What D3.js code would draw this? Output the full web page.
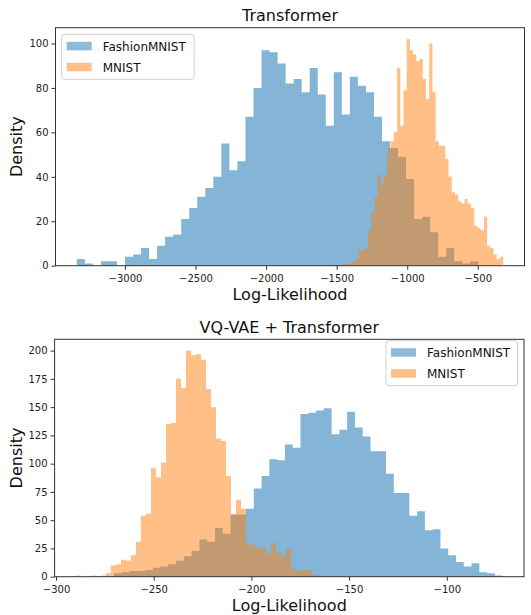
<!DOCTYPE html>
<html>
<head>
<meta charset="utf-8">
<script src="https://cdn.jsdelivr.net/npm/d3@7"></script>
<style>
  body { margin: 0; background: #fff; }
  text { font-family: "DejaVu Sans", sans-serif; }
</style>
</head>
<body>
<svg id="chart" width="531" height="615"></svg>
<script>
//Data: histogram counts, first bin edge and bin width
var seriesNames = ["FashionMNIST", "MNIST"];

var topFashionStart = -3341, topFashionBin = 56.9;
var topFashion = [3, 1, 0, 2, 2, 0, 4, 5, 8, 3, 9, 13, 14, 21, 26, 31, 35, 40, 55, 43,
    47, 67, 80, 97, 96, 91, 82, 84, 78, 89, 77, 63, 87, 68, 85, 81, 78, 67, 56, 53,
    49, 39, 21, 22, 15, 4, 8, 2, 1, 2];
var topMnistStart = -1459, topMnistBin = 22.78;
var topMnist = [1, 1, 1, 2, 3, 7, 7, 8, 16, 24, 31, 41, 37, 41, 53, 56, 60, 89, 63, 79,
    102, 97, 95, 92, 93, 84, 75, 100, 78, 56, 54, 54, 48, 40, 33, 32, 29, 28, 30, 28,
    26, 18, 17, 16, 22, 9, 8, 5, 3, 4];

var botFashionStart = -270.4, botFashionBin = 3.98;
var botFashion = [3, 4, 5, 5, 6, 8, 9, 11, 14, 18, 23, 33, 31, 43, 38, 55, 55, 60, 78, 89,
    104, 103, 117, 114, 144, 145, 147, 149, 126, 130, 146, 132, 124, 111, 111, 91, 74, 74, 54, 58,
    41, 42, 25, 19, 13, 9, 12, 4, 3, 1];
var botMnistStart = -289.8, botMnistBin = 2.56;
var botMnist = [1, 0, 0, 1, 0, 1, 3, 10, 11, 15, 14, 19, 31, 54, 56, 96, 88, 101, 135, 136,
    175, 167, 200, 196, 197, 192, 166, 150, 122, 120, 89, 55, 68, 60, 30, 28, 26, 25, 21, 30,
    21, 18, 25, 7, 5, 6, 6, 2, 1, 1];

var topXTicks = [-3000, -2500, -2000, -1500, -1000, -500];
var topYTicks = [0, 20, 40, 60, 80, 100];
var botXTicks = [-300, -250, -200, -150, -100];
var botYTicks = [0, 25, 50, 75, 100, 125, 150, 175, 200];

var color1 = "#1f77b4";
var color2 = "#ff7f0e";

var svg = d3.select("#chart");

function toBins(start, width, counts) {
    var pts = counts.map(function (n, i) { return { x: start + i * width, n: n }; });
    pts.push({ x: start + counts.length * width, n: counts[counts.length - 1] });
    return pts;
}

function panel(cfg) {
    var s1 = toBins(cfg.fStart, cfg.fBin, cfg.fashion);
    var s2 = toBins(cfg.mStart, cfg.mBin, cfg.mnist);
    var lo = Math.min(s1[0].x, s2[0].x);
    var hi = Math.max(s1[s1.length - 1].x, s2[s2.length - 1].x);
    var pad = (hi - lo) * 0.05;
    var ymax = d3.max(cfg.fashion.concat(cfg.mnist)) * 1.05;

    var x = d3.scaleLinear().domain([lo - pad, hi + pad]).range([cfg.left, cfg.right]);
    var y = d3.scaleLinear().domain([0, ymax]).range([cfg.bottom, cfg.top]);

    var g = svg.append("g");

    var area = d3.area()
        .curve(d3.curveStepAfter)
        .x(function (d) { return x(d.x); })
        .y0(y(0))
        .y1(function (d) { return y(d.n); });

    g.append("path").datum(s1).attr("d", area).attr("fill", color1).attr("fill-opacity", 0.55);
    g.append("path").datum(s2).attr("d", area).attr("fill", color2).attr("fill-opacity", 0.5);

    // Axes
    var xa = g.append("g")
        .attr("transform", "translate(0," + cfg.bottom + ")")
        .call(d3.axisBottom(x).tickValues(cfg.xTicks).tickFormat(d3.format("d"))
            .tickSize(4).tickPadding(5).tickSizeOuter(0));
    var ya = g.append("g")
        .attr("transform", "translate(" + cfg.left + ",0)")
        .call(d3.axisLeft(y).tickValues(cfg.yTicks).tickFormat(d3.format("d"))
            .tickSize(4).tickPadding(3).tickSizeOuter(0));
    [xa, ya].forEach(function (a) {
        a.select(".domain").remove();
        a.selectAll("line").attr("stroke", "#333");
        a.selectAll("text").attr("fill", "#222").style("font-size", "10px")
            .style("font-family", "'DejaVu Sans', sans-serif");
    });

    // Frame
    g.append("rect")
        .attr("x", cfg.left).attr("y", cfg.top)
        .attr("width", cfg.right - cfg.left).attr("height", cfg.bottom - cfg.top)
        .attr("fill", "none").attr("stroke", "#333").attr("stroke-width", 1);

    // Title and labels
    g.append("text")
        .attr("x", (cfg.left + cfg.right) / 2).attr("y", cfg.top - 6.5)
        .attr("text-anchor", "middle").style("font-size", "16px").attr("fill", "#111")
        .text(cfg.title);
    g.append("text")
        .attr("x", (cfg.left + cfg.right) / 2).attr("y", cfg.bottom + 34)
        .attr("text-anchor", "middle").style("font-size", "16px").attr("fill", "#111")
        .text("Log-Likelihood");
    g.append("text")
        .attr("transform", "translate(22," + ((cfg.top + cfg.bottom) / 2) + ") rotate(-90)")
        .attr("text-anchor", "middle").style("font-size", "16px").attr("fill", "#111")
        .text("Density");

    // Legend
    var lg = g.append("g").attr("transform", "translate(" + cfg.legX + "," + cfg.legY + ")");
    lg.append("rect")
        .attr("width", cfg.legW).attr("height", 45).attr("rx", 3)
        .attr("fill", "#fff").attr("fill-opacity", 0.8)
        .attr("stroke", "#d0d0d0").attr("stroke-width", 1);
    [color1, color2].forEach(function (c, i) {
        lg.append("rect")
            .attr("x", 5).attr("y", 7.5 + i * 21)
            .attr("width", 25).attr("height", 8.5)
            .attr("fill", c).attr("fill-opacity", 0.5);
        lg.append("text")
            .attr("x", 41).attr("y", 16.5 + i * 21)
            .style("font-size", "12px").attr("fill", "#111")
            .text(seriesNames[i]);
    });
}

panel({
    title: "Transformer",
    fStart: topFashionStart, fBin: topFashionBin, fashion: topFashion,
    mStart: topMnistStart, mBin: topMnistBin, mnist: topMnist,
    xTicks: topXTicks, yTicks: topYTicks,
    left: 55.5, right: 524.5, top: 27.7, bottom: 265.7,
    legX: 61.7, legY: 34.3, legW: 132.5
});

panel({
    title: "VQ-VAE + Transformer",
    fStart: botFashionStart, fBin: botFashionBin, fashion: botFashion,
    mStart: botMnistStart, mBin: botMnistBin, mnist: botMnist,
    xTicks: botXTicks, yTicks: botYTicks,
    left: 54.6, right: 524, top: 339.3, bottom: 576.7,
    legX: 386, legY: 340.7, legW: 131.7
});
</script>
</body>
</html>
